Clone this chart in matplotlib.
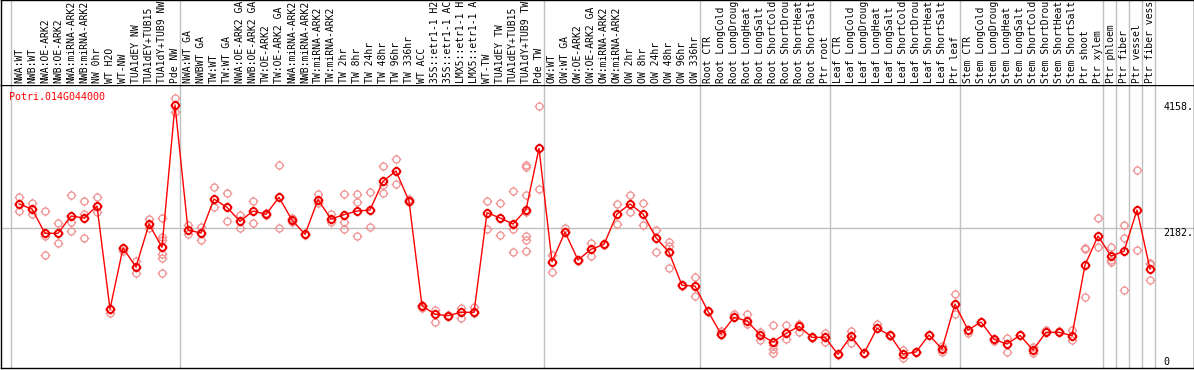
import matplotlib
matplotlib.use('Agg')
import matplotlib.pyplot as plt
from matplotlib.path import Path
import numpy as np

title = "Potri.014G044000"

categories = [
    "NWA:WT", "NWB:WT", "NWA:OE-ARK2", "NWB:OE-ARK2", "NWA:miRNA-ARK2", "NWB:miRNA-ARK2",
    "NW 0hr", "WT H2O", "WT-NW", "TUA1dEY NW", "TUA1dEY+TUB15 NW", "TUA1dY+TUB9 NW", "Pde NW",
    "NWA:WT GA", "NWBWT GA", "TW:WT", "TW:WT GA", "NWA:OE-ARK2 GA", "NWB:OE-ARK2 GA",
    "TW:OE-ARK2", "TW:OE-ARK2 GA", "NWA:miRNA-ARK2", "NWB:miRNA-ARK2", "TW:miRNA-ARK2",
    "TW:miRNA-ARK2", "TW 2hr", "TW 8hr", "TW 24hr", "TW 48hr", "TW 96hr", "TW 336hr",
    "WT ACC", "35S::etr1-1 H2O", "35S::etr1-1 ACC", "LMX5::etr1-1 H2O", "LMX5::etr1-1 ACC",
    "WT-TW", "TUA1dEY TW", "TUA1dEY+TUB15 TW", "TUA1dY+TUB9 TW", "Pde TW",
    "OW:WT", "OW:WT GA", "OW:OE-ARK2", "OW:OE-ARK2 GA", "OW:miRNA-ARK2", "OW:miRNA-ARK2",
    "OW 2hr", "OW 8hr", "OW 24hr", "OW 48hr", "OW 96hr", "OW 336hr",
    "Root CTR", "Root LongCold", "Root LongDrought", "Root LongHeat", "Root LongSalt",
    "Root ShortCold", "Root ShortDrought", "Root ShortHeat", "Root ShortSalt", "Ptr root",
    "Leaf CTR", "Leaf LongCold", "Leaf LongDrought", "Leaf LongHeat", "Leaf LongSalt",
    "Leaf ShortCold", "Leaf ShortDrought", "Leaf ShortHeat", "Leaf ShortSalt", "Ptr leaf",
    "Stem CTR", "Stem LongCold", "Stem LongDrought", "Stem LongHeat", "Stem LongSalt",
    "Stem ShortCold", "Stem ShortDrought", "Stem ShortHeat", "Stem ShortSalt", "Ptr shoot",
    "Ptr xylem", "Ptr phloem", "Ptr fiber", "Ptr vessel", "Ptr fiber vessel",
]

means = [
    2569, 2488, 2098, 2098, 2376, 2344, 2536, 883, 1862, 1557, 2247, 1873, 4158,
    2151, 2103, 2649, 2515, 2290, 2456, 2403, 2676, 2312, 2082, 2638, 2328, 2397,
    2456, 2472, 2933, 3098, 2617, 936, 798, 776, 830, 830, 2429, 2345, 2247, 2477,
    3462, 1643, 2119, 1670, 1841, 1921, 2408, 2569, 2408, 2028, 1793, 1263, 1252,
    846, 482, 750, 690, 471, 353, 492, 605, 428, 428, 155, 450, 172, 573, 460, 160,
    193, 466, 241, 963, 546, 674, 396, 321, 460, 225, 509, 509, 455, 1589, 2055,
    1734, 1809, 2472, 1525,
]

replicates = [
    [2676, 2461, 2569], [2590, 2403], [2456, 2060, 1745], [2264, 1938, 2098],
    [2708, 2284, 2135], [2617, 2403, 2018], [2686, 2445, 2536], [883, 824],
    [1862, 1808], [1658, 1456], [2322, 2178], [2339, 2044, 1991, 1761, 1707, 1456],
    [4265, 4040], [2231, 2082], [2205, 1991], [2836, 2525], [2745, 2296],
    [2392, 2178], [2622, 2258], [2420, 2390], [3195, 2178], [2345, 2280],
    [2082, 2070], [2724, 2580], [2403, 2275], [2724, 2284, 2167], [2724, 2606, 2055],
    [2761, 2194], [3174, 2874, 2740], [3291, 2890], [2649, 2606], [940, 900],
    [862, 679], [790, 770], [894, 743], [920, 814], [2622, 2167], [2580, 2066],
    [2777, 2167, 1798], [3195, 3158, 2708, 2445, 2055, 1991, 1814], [4137, 2804],
    [1750, 1472], [2178, 2119], [1670, 1660], [1938, 1739], [1921, 1915],
    [2569, 2242], [2713, 2435], [2580, 2231], [2151, 1803], [1964, 1900, 1536],
    [1270, 1255], [1392, 1092], [846, 840], [530, 460], [808, 750], [798, 647],
    [519, 385], [626, 305, 241, 182], [626, 396], [642, 519], [440, 410],
    [503, 358], [155, 150], [535, 332], [180, 172], [642, 573], [460, 455],
    [225, 92], [200, 193], [466, 460], [294, 188], [1124, 803], [492, 546],
    [680, 674], [374, 396], [412, 188], [460, 470], [278, 172], [546, 509],
    [530, 509], [546, 385], [1857, 1841, 1071], [2339, 1873], [1884, 1670, 1638],
    [2231, 2018, 1188], [3114, 1830], [1627, 1605, 1349],
]

group_ends = [12, 40, 52, 62, 72, 83, 84, 85, 86, 87]
max_label = 4158
mid_label = 2182
label_chars = 14  # the label band shows at most this many characters

# ---- figure geometry ----
W, H = 1194, 370
fig = plt.figure(figsize=(W / 100, H / 100), dpi=100)
ax_left = 0.5 / W
ax_w = 1193 / W
ax = fig.add_axes([ax_left, 2 / H, ax_w, 283 / H])
lab = fig.add_axes([ax_left, 285 / H, ax_w, 85 / H])

xmin = -(19 - 0.5) / 13
xmax = xmin + 1193 / 13
ax.set_xlim(xmin, xmax)
lab.set_xlim(xmin, xmax)
ax.set_ylim(-64, 4479)
lab.set_ylim(0, 1)

for a in (ax, lab):
    a.set_xticks([])
    a.set_yticks([])
    for s in a.spines.values():
        s.set_color('black')
        s.set_linewidth(1.0)
lab.spines['bottom'].set_visible(False)

grid_c = '#c0c0c0'
seps = [-0.6] + [g + 0.4 for g in group_ends]
for sx in seps:
    ax.axvline(sx, color=grid_c, lw=1.0, zorder=1)
    lab.axvline(sx, color=grid_c, lw=1.0, zorder=1)
ax.axhline(mid_label, color=grid_c, lw=1.0, zorder=1)

# marker: circle with four small ticks
circ = Path.unit_circle()
ticks = []
for dx, dy in [(0, 1), (0, -1), (1, 0), (-1, 0)]:
    ticks.append(Path([[dx * 1.0, dy * 1.0], [dx * 1.4, dy * 1.4]],
                      [Path.MOVETO, Path.LINETO]))
mk = Path.make_compound_path(circ, *ticks)

x = np.arange(len(categories))
rx, ry = [], []
for i, reps in enumerate(replicates):
    for v in reps:
        rx.append(i)
        ry.append(v)
ax.plot(rx, ry, linestyle='none', marker=mk, markersize=7.0,
        markerfacecolor='none', markeredgecolor='#f09090', markeredgewidth=0.9,
        zorder=2)
ax.plot(x, means, color='#ff0000', lw=1.0, zorder=3)
ax.plot(x, means, linestyle='none', marker=mk, markersize=7.0,
        markerfacecolor='none', markeredgecolor='#ee0000', markeredgewidth=1.4,
        zorder=4)

mono = 'DejaVu Sans Mono'
fs = 7.0
ax.annotate(title, xy=(0, 1), xycoords='axes fraction', xytext=(9, -12),
            textcoords='offset pixels', ha='left', va='center',
            color='#ff0000', family=mono, fontsize=7.2)

# y labels on the right
for val, txt, off in [(max_label, '4158.', -2), (mid_label, '2182.', -5), (0, '0', 2)]:
    ax.annotate(txt, xy=(1, val), xycoords=('axes fraction', 'data'),
                xytext=(-30, off), textcoords='offset pixels',
                ha='left', va='center', family=mono, fontsize=7.2, color='black')

# category labels (vertical), shown as truncated in the reference
for i, c in enumerate(categories):
    lab.annotate(c[:label_chars].rstrip(), xy=(i, 0), xycoords='data', xytext=(0, 2),
                 textcoords='offset pixels', rotation=90, ha='center', va='bottom',
                 family=mono, fontsize=fs, color='black', annotation_clip=False)

fig.savefig('out.png', dpi=100)
